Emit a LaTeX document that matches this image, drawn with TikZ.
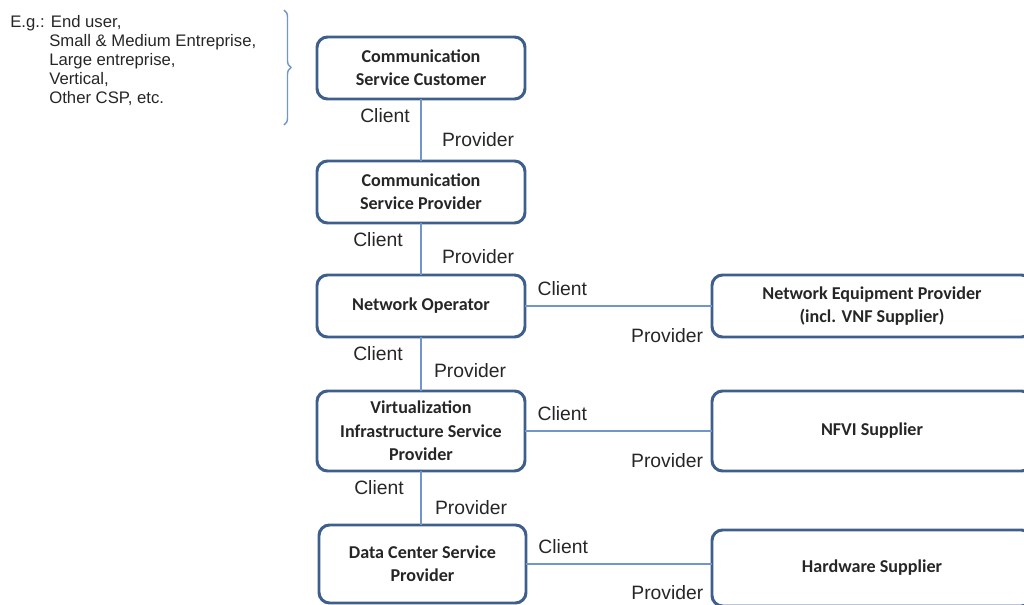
\documentclass[tikz,border=0pt]{standalone}
\usepackage{fontspec}
\setmainfont{Liberation Sans}
\newfontfamily\boxfont{Carlito}
\usetikzlibrary{positioning,decorations.pathreplacing}
\definecolor{boxblue}{RGB}{62,94,140}
\definecolor{lineblue}{RGB}{112,150,204}
\definecolor{txtgray}{RGB}{38,38,38}

\begin{document}
\begin{tikzpicture}[
    role/.style={draw=boxblue, line width=1.7pt, rounded corners=6pt, minimum width=4.16cm, minimum height=1.24cm, align=center, text=txtgray, font=\boxfont\bfseries\fontsize{10.3}{13.3}\selectfont, inner sep=2pt, outer sep=0pt},
    supplier/.style={role, minimum width=6.4cm},
    link/.style={draw=lineblue, line width=0.9pt},
    lbl/.style={text=txtgray, font=\fontsize{11}{13}\selectfont, inner sep=0pt}]
  \useasboundingbox (0,0) rectangle (20.48,-12.1);

  % client / provider chain
  \node [role] (csc) at (8.42,-1.36) {Communication\\Service Customer};
  \node [role, below=1.24cm of csc] (csp) {Communication\\Service Provider};
  \node [role, below=1.04cm of csp] (no) {Network Operator};
  \node [role, below=1.08cm of no, minimum height=1.6cm] (visp) {Virtualization\\Infrastructure Service\\Provider};
  \node [role, below=1.08cm of visp, xshift=0.03cm, minimum width=4.14cm, minimum height=1.56cm] (dcsp) {Data Center Service\\Provider};

  % suppliers
  \node [supplier, right=3.74cm of no] (nep) {Network Equipment Provider\\(incl. VNF Supplier)};
  \node [supplier, right=3.74cm of visp, minimum height=1.6cm] (nfvi) {NFVI Supplier};
  \node [supplier, right=3.72cm of dcsp, minimum height=1.52cm, yshift=-0.08cm] (hw) {Hardware Supplier};

  % vertical links
  \draw [link] (csc) -- (csp)
    node [lbl, pos=.27, xshift=-0.72cm] (c1) {Client}
    node [lbl, pos=.65, xshift=1.14cm] (p1) {Provider};
  \draw [link] (csp) -- (no)
    node [lbl, pos=.31, xshift=-0.86cm] (c2) {Client}
    node [lbl, pos=.65, xshift=1.14cm] (p2) {Provider};
  \draw [link] (no) -- (visp)
    node [lbl, pos=.31, xshift=-0.86cm] (c3) {Client}
    node [lbl, pos=.63, xshift=0.98cm] (p3) {Provider};
  \draw [link] (visp.south) -- (visp.south |- dcsp.north)
    node [lbl, pos=.31, xshift=-0.84cm] (c4) {Client}
    node [lbl, pos=.67, xshift=1.0cm] (p4) {Provider};

  % horizontal links
  \draw [link] (no) -- (nep)
    node [lbl, pos=.2, yshift=0.34cm] (c5) {Client}
    node [lbl, pos=.76, yshift=-0.6cm] (p5) {Provider};
  \draw [link] (visp) -- (nfvi)
    node [lbl, pos=.2, yshift=0.34cm] (c6) {Client}
    node [lbl, pos=.76, yshift=-0.6cm] (p6) {Provider};
  \draw [link] (dcsp.east) -- (dcsp.east -| hw.west)
    node [lbl, pos=.2, yshift=0.34cm] (c7) {Client}
    node [lbl, pos=.76, yshift=-0.58cm] (p7) {Provider};

  % examples of customers
  \node [anchor=north west, align=left, text=txtgray, inner sep=0pt, font=\fontsize{9.5}{10.8}\selectfont] (eg) at (0.2,-0.3)
    {E.g.: End user,\\
     \hspace*{0.78cm}Small \& Medium Entreprise,\\
     \hspace*{0.78cm}Large entreprise,\\
     \hspace*{0.78cm}Vertical,\\
     \hspace*{0.78cm}Other CSP, etc.};
  \coordinate (btop) at (5.68,-0.2);
  \coordinate (bbot) at (5.68,-2.5);
  \draw [lineblue, line width=0.8pt, decorate, decoration={brace, amplitude=0.14cm}] (btop) -- (bbot);
\end{tikzpicture}
\end{document}
